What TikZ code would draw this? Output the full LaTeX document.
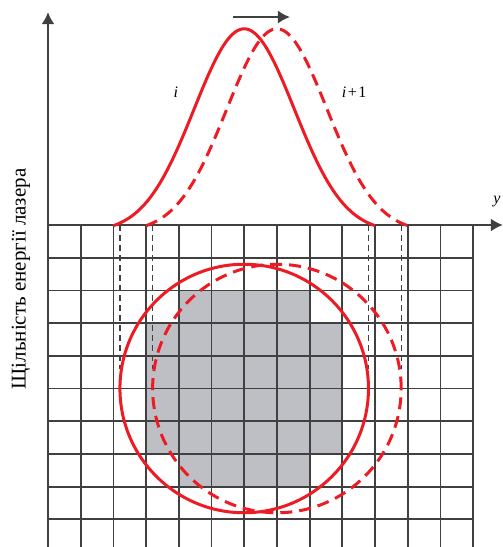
\documentclass[tikz,border=0pt]{standalone}
\usepackage{fontspec}
\setmainfont{Liberation Serif}
\usetikzlibrary{arrows.meta}
\definecolor{laserred}{RGB}{237,28,36}
\definecolor{linegray}{RGB}{64,64,64}
\definecolor{cellgray}{RGB}{190,191,196}

\begin{document}
\begin{tikzpicture}[x=32.7pt, y=32.7pt, >={Latex[length=12pt,width=13pt]},
    gridline/.style={linegray, line width=1.8pt},
    axisline/.style={linegray, line width=1.8pt, ->},
    beam/.style={laserred, line width=3pt},
    beamnext/.style={beam, dash pattern=on 12pt off 7pt},
    guide/.style={linegray, line width=1.2pt, dash pattern=on 6pt off 4pt},
    lbl/.style={font=\fontsize{16}{18}\selectfont}]
    % 0. Khung
    \useasboundingbox (-1.468,-9.847) rectangle (13.914,6.881);
    \clip (-1.468,-9.847) rectangle (13.914,6.881);

    % 1. Gray cells
    \fill[cellgray] (4,-2) rectangle (8,-3);
    \fill[cellgray] (3,-3) rectangle (9,-7);
    \fill[cellgray] (4,-7) rectangle (8,-8);

    % 2. Grid and axes
    \foreach \gx in {1,...,13}
        \draw[gridline] (\gx,-10) -- (\gx,0);
    \foreach \gy in {1,...,10}
        \draw[gridline] (0,-\gy) -- (13,-\gy);
    \coordinate (O) at (0,0);
    \coordinate (ytop) at (0,6.51);
    \coordinate (xend) at (13.91,0);
    \draw[axisline] (0,-10) -- (ytop);
    \draw[axisline] (O) -- (xend);

    % 3. Gaussian profiles i and i+1
    \draw[beam, samples=100, domain=2:10]
        plot (\x, {6*(exp(-1*(\x-6)*(\x-6)/4.68)-0.036)/0.964});
    \draw[beamnext, samples=100, domain=3:11]
        plot (\x, {6*(exp(-1*(\x-7)*(\x-7)/4.68)-0.036)/0.964});

    % 4. Guide lines down to the spots
    \foreach \gx in {2.2,3.2,9.8,10.8}
        \draw[guide] (\gx,0) -- (\gx,-4.4);

    % 5. Laser spots
    \draw[beam] (6,-5) circle (3.8);
    \draw[beamnext] (7,-5) circle (3.8);

    % 6. Scan direction
    \coordinate (mstart) at (5.66,6.36);
    \coordinate (mend) at (7.40,6.36);
    \draw[axisline] (mstart) -- (mend);

    % 7. Labels
    \node[lbl] (lbl-i) at (3.91,4.07) {\textit{i}};
    \node[lbl] (lbl-next) at (9.36,4.07) {\textit{i}\kern1.5pt+\kern1.5pt1};
    \node[lbl] (lbl-y) at (13.73,0.72) {\textit{y}};
    \node[rotate=90, font=\fontsize{21}{24}\selectfont] (ylabel) at (-0.83,-1.65)
        {Щільність енергії лазера};
\end{tikzpicture}
\end{document}
